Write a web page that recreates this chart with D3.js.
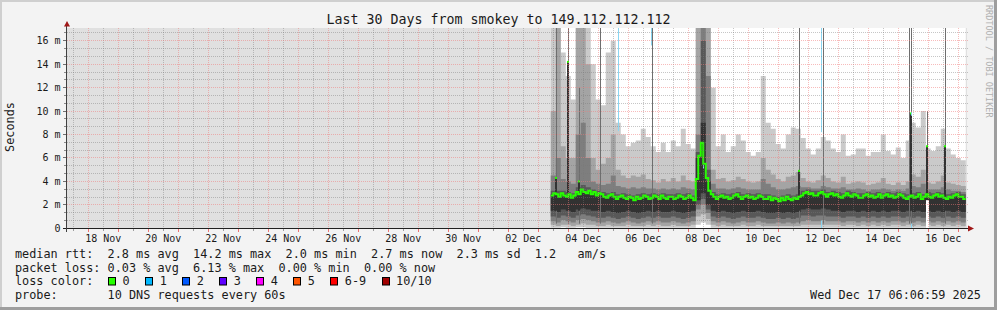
<!DOCTYPE html>
<html>
<head>
<meta charset="utf-8">
<script src="https://cdn.jsdelivr.net/npm/d3@7"></script>
<style>
html, body { margin: 0; padding: 0; background: #f3f3f3; }
svg { display: block; }
text { font-family: "DejaVu Sans Mono", monospace; white-space: pre; }
</style>
</head>
<body>
<svg id="chart" width="997" height="310"></svg>
<script>
// smoke data, one value per 4h bin starting Dec 3 10:00 (ms)
var binStart = Date.UTC(2025, 11, 3, 10);
var binHours = 4;
// median is finer, one value per 2h
var medHours = 2;

var medianMs = [2.8, 3.0, 2.9, 2.7, 3.0, 2.8, 2.7, 2.9, 2.6, 2.8, 3.1, 2.9, 3.3, 3.1, 3.0, 3.2, 2.9, 3.1, 2.8, 3.0,
  2.9, 2.7, 2.6, 2.8, 2.9, 2.7, 2.5, 2.7, 2.8, 2.6, 2.5, 2.7, 2.6, 2.4, 2.7, 2.5, 2.6, 2.8, 2.7, 2.5,
  2.6, 2.8, 2.7, 2.5, 2.8, 2.6, 2.5, 2.7, 2.7, 2.5, 2.6, 2.8, 2.7, 2.5, 2.6, 2.8, 2.6, 2.4,
  4.2, 6.2, 7.3, 5.5, 4.3, 3.2,
  2.9, 2.7, 2.5, 2.7, 2.8, 2.6, 2.7, 2.5, 2.6, 2.8, 2.9, 2.7, 2.5, 2.7, 2.8, 2.6, 2.7, 2.5,
  2.6, 2.8, 2.7, 2.5, 2.5, 2.7, 2.4, 2.6, 2.5, 2.3, 2.6, 2.4, 2.7, 2.5, 2.4, 2.6, 2.5, 2.7,
  2.8, 3.0, 3.1, 2.9, 3.0, 2.8, 2.8, 3.0, 3.1, 2.9, 2.7, 2.9, 3.0, 2.8, 2.9, 2.7, 2.6, 2.8, 3.0, 2.8, 2.7, 2.9, 2.8, 2.6,
  2.6, 2.8, 2.9, 2.7, 2.8, 2.6, 2.7, 2.9, 2.6, 2.8, 2.9, 2.7, 2.8, 2.6, 2.7, 2.9, 2.8, 2.6, 2.5, 2.7, 2.8,
  2.6, 2.7, 2.9, 2.5, 2.7, 2.9, 2.7, 2.6, 2.8, 2.9, 2.7, 2.8, 2.6, 2.5, 2.7, 2.6, 2.8, 2.9, 2.7, 2.7, 2.5];

var p10Ms = [18, 18, 15, 13, 11, 18, 18, 18, 14, 11,
  10.5, 15, 16, 9, 8, 7, 7.3, 7.5, 8.5, 7.8,
  7, 6.5, 7.3, 6.5, 7.5, 7, 8.5, 7.2, 6.8, 18,
  18, 18, 12, 7, 8, 6.5, 7, 8, 7.5, 6.5,
  6.2, 6.5, 13, 9, 8.5, 7.2, 6.8, 8, 8.6, 8.5,
  7.7, 6.8, 6.3, 6.8, 7.8, 7.5, 6.8, 6.5, 8, 6.2,
  6.3, 6.8, 6.8, 6.2, 6.5, 6.5, 8, 6.6, 6.3, 6.9,
  6, 7.5, 9, 8.6, 10, 6.8, 6.6, 7, 8.5, 6.8,
  6.3, 6, 5.8];

var p9Ms = [10, 18, 7, 6, 6, 18, 18, 14, 6, 5,
  5.5, 6, 8, 5, 4.5, 4.3, 4.5, 4.4, 4.6, 4.2,
  4.1, 3.9, 4.2, 4.0, 4.3, 4.0, 4.5, 4.1, 4.0, 18,
  18, 18, 5.0, 4.2, 4.3, 4.0, 4.1, 4.4, 4.2, 4.0,
  3.9, 4.0, 6.0, 5.0, 4.6, 4.2, 4.0, 4.4, 4.5, 4.8,
  4.3, 4.0, 3.9, 4.1, 4.5, 4.3, 4.0, 3.9, 4.4, 3.8,
  3.9, 4.0, 3.9, 3.7, 3.8, 3.9, 4.3, 3.8, 3.7, 3.9,
  3.7, 4.0, 4.6, 4.4, 5.0, 3.9, 3.8, 4.0, 4.5, 3.9,
  3.8, 3.7, 3.6];

var p8Ms = [4.5, 6, 4.2, 4, 3.8, 8, 9, 6, 4, 3.8,
  3.7, 3.8, 4.5, 3.6, 3.5, 3.4, 3.5, 3.4, 3.5, 3.4,
  3.4, 3.3, 3.4, 3.3, 3.4, 3.3, 3.5, 3.4, 3.3, 8,
  18, 13, 3.8, 3.4, 3.4, 3.3, 3.4, 3.5, 3.4, 3.3,
  3.3, 3.3, 4.2, 3.8, 3.5, 3.3, 3.3, 3.4, 3.5, 3.6,
  3.5, 3.5, 3.4, 3.4, 3.6, 3.5, 3.4, 3.4, 3.5, 3.3,
  3.3, 3.4, 3.3, 3.2, 3.3, 3.3, 3.4, 3.3, 3.2, 3.3,
  3.2, 3.4, 3.6, 3.5, 3.8, 3.3, 3.3, 3.3, 3.5, 3.3,
  3.2, 3.2, 3.1];

var p7Ms = [3.2, 3.2, 3.2, 3.1, 3.0, 3.5, 3.7, 3.5, 3.3, 3.2,
  3.1, 3.0, 3.1, 2.9, 3.0, 2.9, 2.8, 2.9, 3.0, 2.9,
  3.0, 2.9, 3.0, 2.9, 2.9, 3.0, 2.9, 3.0, 2.8, 6.5,
  16, 5.0, 3.1, 2.9, 3.0, 2.9, 3.0, 3.1, 2.9, 3.0,
  2.9, 3.0, 2.9, 2.9, 2.8, 2.7, 2.8, 2.9, 2.8, 2.9,
  3.2, 3.3, 3.2, 3.2, 3.3, 3.1, 3.2, 3.1, 3.0, 3.2,
  3.1, 3.0, 3.0, 3.1, 3.0, 3.1, 3.0, 3.1, 3.0, 3.1,
  3.0, 2.9, 3.0, 3.1, 2.9, 3.1, 3.0, 3.1, 3.0, 2.9,
  3.0, 3.1, 2.9];

var p6Ms = [2.9, 2.8, 2.9, 2.8, 2.7, 3.0, 3.2, 3.1, 3.0, 2.9,
  2.8, 2.7, 2.8, 2.6, 2.7, 2.6, 2.5, 2.6, 2.7, 2.6,
  2.7, 2.6, 2.7, 2.6, 2.6, 2.7, 2.6, 2.7, 2.5, 6.0,
  9.0, 4.0, 2.8, 2.6, 2.7, 2.6, 2.7, 2.8, 2.6, 2.7,
  2.6, 2.7, 2.6, 2.6, 2.5, 2.4, 2.5, 2.6, 2.5, 2.6,
  2.9, 3.0, 2.9, 2.9, 3.0, 2.8, 2.9, 2.8, 2.7, 2.9,
  2.8, 2.7, 2.7, 2.8, 2.7, 2.8, 2.7, 2.8, 2.7, 2.8,
  2.7, 2.6, 2.7, 2.8, 2.6, 2.8, 2.7, 2.8, 2.7, 2.6,
  2.7, 2.8, 2.6];

var p5Ms = [1.5, 1.4, 1.6, 1.5, 1.4, 1.6, 1.7, 1.6, 1.5, 1.5,
  1.4, 1.5, 1.4, 1.3, 1.4, 1.5, 1.4, 1.3, 1.4, 1.5,
  1.4, 1.5, 1.4, 1.4, 1.5, 1.4, 1.3, 1.4, 1.5, 2.4,
  3.0, 2.0, 1.5, 1.4, 1.5, 1.4, 1.3, 1.4, 1.5, 1.4,
  1.4, 1.5, 1.4, 1.3, 1.3, 1.4, 1.3, 1.4, 1.3, 1.4,
  1.6, 1.7, 1.6, 1.6, 1.7, 1.6, 1.5, 1.5, 1.4, 1.5,
  1.5, 1.4, 1.5, 1.4, 1.5, 1.4, 1.5, 1.4, 1.5, 1.5,
  1.4, 1.5, 1.4, 1.5, 1.4, 1.5, 1.4, 1.5, 1.4, 1.5,
  1.4, 1.5, 1.4];

var p4Ms = [1.0, 0.9, 1.1, 1.0, 0.9, 1.1, 1.2, 1.1, 1.0, 0.9,
  0.9, 1.0, 0.9, 0.8, 0.9, 1.0, 0.9, 0.8, 0.9, 1.0,
  0.9, 1.0, 0.9, 0.9, 1.0, 0.9, 0.8, 0.9, 1.0, 2.0,
  2.5, 1.6, 1.0, 0.9, 1.0, 0.9, 0.8, 0.9, 1.0, 0.9,
  0.9, 1.0, 0.9, 0.8, 0.8, 0.9, 0.8, 0.9, 0.8, 0.9,
  1.1, 1.1, 1.0, 1.1, 1.1, 1.0, 1.0, 1.0, 0.9, 1.0,
  1.0, 0.9, 1.0, 0.9, 1.0, 0.9, 1.0, 0.9, 1.0, 1.0,
  0.9, 1.0, 0.9, 1.0, 0.9, 1.0, 0.9, 1.0, 0.9, 1.0,
  0.9, 1.0, 0.9];

var p3Ms = [0.6, 0.5, 0.7, 0.6, 0.5, 0.7, 0.8, 0.7, 0.6, 0.5,
  0.5, 0.6, 0.5, 0.4, 0.5, 0.6, 0.5, 0.4, 0.5, 0.6,
  0.5, 0.6, 0.5, 0.5, 0.6, 0.5, 0.4, 0.5, 0.6, 1.6,
  2.0, 1.3, 0.6, 0.5, 0.6, 0.5, 0.4, 0.5, 0.6, 0.5,
  0.5, 0.6, 0.5, 0.4, 0.4, 0.5, 0.4, 0.5, 0.4, 0.5,
  0.6, 0.7, 0.6, 0.6, 0.7, 0.6, 0.6, 0.6, 0.5, 0.6,
  0.6, 0.5, 0.6, 0.5, 0.6, 0.5, 0.6, 0.5, 0.6, 0.6,
  0.5, 0.6, 0.5, 0.6, 0.5, 0.6, 0.5, 0.6, 0.5, 0.6,
  0.5, 0.6, 0.5];

var p2Ms = [0.3, 0.2, 0.3, 0.3, 0.2, 0.3, 0.4, 0.3, 0.3, 0.2,
  0.2, 0.3, 0.2, 0.2, 0.2, 0.3, 0.2, 0.2, 0.2, 0.3,
  0.2, 0.3, 0.2, 0.2, 0.3, 0.2, 0.2, 0.2, 0.3, 1.0,
  1.2, 0.8, 0.3, 0.2, 0.3, 0.2, 0.2, 0.2, 0.3, 0.2,
  0.2, 0.3, 0.2, 0.2, 0.2, 0.2, 0.2, 0.2, 0.2, 0.2,
  0.3, 0.3, 0.3, 0.3, 0.3, 0.3, 0.3, 0.3, 0.2, 0.3,
  0.3, 0.2, 0.3, 0.2, 0.3, 0.2, 0.3, 0.2, 0.3, 0.3,
  0.2, 0.3, 0.2, 0.3, 0.2, 0.3, 0.2, 0.3, 0.2, 0.3,
  0.2, 0.3, 0.2];

var p1Ms = [0.05, 0.05, 0.1, 0.05, 0.05, 0.1, 0.1, 0.05, 0.05, 0.05,
  0.05, 0.05, 0.05, 0.05, 0.05, 0.05, 0.05, 0.05, 0.05, 0.05,
  0.05, 0.05, 0.05, 0.05, 0.05, 0.05, 0.05, 0.05, 0.05, 0.3,
  0.5, 0.3, 0.05, 0.05, 0.05, 0.05, 0.05, 0.05, 0.05, 0.05,
  0.05, 0.05, 0.05, 0.05, 0.05, 0.05, 0.05, 0.05, 0.05, 0.05,
  0.05, 0.05, 0.05, 0.05, 0.05, 0.05, 0.05, 0.05, 0.05, 0.05,
  0.05, 0.05, 0.05, 0.05, 0.05, 0.05, 0.05, 0.05, 0.05, 0.05,
  0.05, 0.05, 0.05, 0.05, 0.05, 0.05, 0.05, 0.05, 0.05, 0.05,
  0.05, 0.05, 0.05];

// narrow one-pixel spikes
var spikeDates = ["2025-12-03T14:36Z", "2025-12-03T23:48Z", "2025-12-04T09:00Z", "2025-12-05T01:24Z",
  "2025-12-06T19:00Z", "2025-12-11T16:36Z", "2025-12-12T11:48Z", "2025-12-15T09:00Z",
  "2025-12-15T10:36Z", "2025-12-15T23:00Z", "2025-12-16T13:48Z"];
var spikeMax = [18, 18, 12, 18, 18, 18, 18, 18, 18, 10, 18];
var spikeMedian = [4.3, 14.2, 4.0, null, null, 4.9, null, null, 9.8, 7.0, 7.0];
var spikeFloor = [0, 0, 0, 0, 0, 0, 0, 0, 0, 2.4, 0];

// packet loss (1/10) marks
var lossDates = ["2025-12-05T16:36Z", "2025-12-06T18:12Z", "2025-12-08T11:48Z", "2025-12-12T10:12Z",
  "2025-12-12T10:12Z", "2025-12-15T10:36Z", "2025-12-15T10:36Z"];
var lossTop = [18, 18, 5.4, 18, 0.7, 9.9, 0.4];
var lossBottom = [8.3, 15.6, 5.1, 8.2, 0, 9.6, 0];

// axis / legend
var yTicks = [0, 2, 4, 6, 8, 10, 12, 14, 16];
var lossLabels = ["0", "1", "2", "3", "4", "5", "6-9", "10/10"];
var lossColors = ["#26ff00", "#00b8ff", "#0059ff", "#5e00ff", "#ff00ff", "#ff5500", "#ff0000", "#a10000"];
var legendRows = [
  "median rtt:  2.8 ms avg  14.2 ms max  2.0 ms min  2.7 ms now  2.3 ms sd  1.2   am/s",
  "packet loss: 0.03 % avg  6.13 % max  0.00 % min  0.00 % now",
  "loss color:",
  "probe:       10 DNS requests every 60s"
];
var stamp = "Wed Dec 17 06:06:59 2025";
var title = "Last 30 Days from smokey to 149.112.112.112";

var W = 997, H = 310;
var svg = d3.select("#chart");

var x = d3.scaleUtc()
  .domain([new Date(Date.UTC(2025, 10, 17, 7)), new Date(Date.UTC(2025, 11, 17, 7))])
  .range([67, 967]);
var y = d3.scaleLinear().domain([0, 17.09]).range([228.3, 28]);
var py = function(v) { return Math.floor(y(v)) + 0.5; };
var px = function(d) { return Math.floor(x(d)) + 0.5; };

// frame
svg.append("rect").attr("width", W).attr("height", H).attr("fill", "#f3f3f3");
svg.append("rect").attr("x", 0).attr("y", 0).attr("width", W).attr("height", 2).attr("fill", "#cfcfcf");
svg.append("rect").attr("x", 0).attr("y", 0).attr("width", 2).attr("height", H).attr("fill", "#cfcfcf");
svg.append("rect").attr("x", 0).attr("y", H - 3).attr("width", W).attr("height", 3).attr("fill", "#9e9e9e");
svg.append("rect").attr("x", W - 3).attr("y", 0).attr("width", 3).attr("height", H).attr("fill", "#9e9e9e");

svg.append("defs").append("clipPath").attr("id", "plot")
  .append("rect").attr("x", 67).attr("y", 28).attr("width", 900).attr("height", 200.5);

var plot = svg.append("g").attr("clip-path", "url(#plot)");

// bins
var bins = d3.range(p10Ms.length).map(function(i) {
  return {
    t: new Date(binStart + i * binHours * 3600e3),
    p1: p1Ms[i], p2: p2Ms[i], p3: p3Ms[i], p4: p4Ms[i], p5: p5Ms[i],
    p6: p6Ms[i], p7: p7Ms[i], p8: p8Ms[i], p9: p9Ms[i], p10: p10Ms[i]
  };
});
var last = Object.assign({}, bins[bins.length - 1]);
last.t = new Date(binStart + bins.length * binHours * 3600e3);
var steps = bins.concat([last]);

var meds = medianMs.map(function(v, i) {
  return { t: new Date(binStart + i * medHours * 3600e3), med: v };
});
meds.push({ t: new Date(binStart + medianMs.length * medHours * 3600e3), med: medianMs[medianMs.length - 1] });

var dataStart = x(bins[0].t), dataEnd = x(last.t);
plot.append("rect").attr("x", 67).attr("y", 28).attr("width", 900).attr("height", 201).attr("fill", "#e0e0e0");
plot.append("rect").attr("x", dataStart).attr("y", 28).attr("width", dataEnd - dataStart)
  .attr("height", 201).attr("fill", "#ffffff");

// smoke bands, outermost first
var bands = [["p1", "p10", "#cacaca"], ["p2", "p9", "#a4a4a4"], ["p3", "p8", "#7e7e7e"],
  ["p4", "p7", "#585858"], ["p5", "p6", "#323232"]];
bands.forEach(function(b) {
  var area = d3.area().curve(d3.curveStepAfter)
    .x(function(d) { return x(d.t); })
    .y0(function(d) { return y(d[b[0]]); })
    .y1(function(d) { return y(d[b[1]]); });
  plot.append("path").datum(steps).attr("d", area).attr("fill", b[2]);
});

// spikes
spikeDates.forEach(function(s, i) {
  var sx = Math.floor(x(new Date(s)));
  plot.append("rect").attr("x", sx).attr("y", y(spikeMax[i]))
    .attr("width", 1).attr("height", y(0.4) - y(spikeMax[i])).attr("fill", "#6e6e6e");
  if (spikeMedian[i] != null) {
    plot.append("rect").attr("x", sx - 1).attr("y", y(spikeMedian[i]))
      .attr("width", 2).attr("height", y(1.5) - y(spikeMedian[i])).attr("fill", "#323232");
  }
  if (spikeFloor[i] > 0) {
    plot.append("rect").attr("x", sx - 1).attr("y", y(spikeFloor[i]))
      .attr("width", 3).attr("height", y(0) - y(spikeFloor[i])).attr("fill", "#ffffff");
  }
});

// median line
var medLine = d3.line().curve(d3.curveStepAfter)
  .x(function(d) { return x(d.t); })
  .y(function(d) { return y(d.med); });
plot.append("path").datum(meds).attr("d", medLine)
  .attr("fill", "none").attr("stroke", lossColors[0]).attr("stroke-width", 2);

spikeDates.forEach(function(s, i) {
  if (spikeMedian[i] == null) return;
  var sx = Math.floor(x(new Date(s)));
  plot.append("rect").attr("x", sx - 1).attr("y", y(spikeMedian[i]) - 1)
    .attr("width", 2).attr("height", 2).attr("fill", lossColors[0]);
});

// loss marks
lossDates.forEach(function(s, i) {
  var lx = px(new Date(s));
  plot.append("line").attr("x1", lx).attr("x2", lx)
    .attr("y1", y(lossTop[i])).attr("y2", y(lossBottom[i]))
    .attr("stroke", "#8ad6f2").attr("stroke-width", 1);
});

// grid
var grid = svg.append("g");
var minorCol = "rgba(120,120,120,0.42)", majorCol = "rgba(240,120,120,0.5)";
var minorY = d3.range(0, 17.05, 2 / 3).filter(function(v) { return Math.abs(v / 2 - Math.round(v / 2)) > 0.01; });
minorY.forEach(function(v) {
  grid.append("line").attr("x1", 67).attr("x2", 969).attr("y1", py(v)).attr("y2", py(v))
    .attr("stroke", minorCol).attr("stroke-dasharray", "1,1");
  grid.append("line").attr("x1", 64).attr("x2", 67).attr("y1", py(v)).attr("y2", py(v))
    .attr("stroke", "#8c8c8c");
});
var halfDays = d3.utcHour.every(12).range(x.domain()[0], x.domain()[1]);
halfDays.forEach(function(d) {
  var major = d.getUTCHours() === 0;
  grid.append("line").attr("x1", px(d)).attr("x2", px(d)).attr("y1", 28).attr("y2", 228)
    .attr("stroke", major ? majorCol : minorCol)
    .attr("stroke-dasharray", "1,1");
  grid.append("line").attr("x1", px(d)).attr("x2", px(d)).attr("y1", 229).attr("y2", major ? 232 : 231)
    .attr("stroke", major ? "#f07070" : "#9c9c9c");
});
yTicks.filter(function(v) { return v > 0; }).forEach(function(v) {
  grid.append("line").attr("x1", 67).attr("x2", 969).attr("y1", py(v)).attr("y2", py(v))
    .attr("stroke", majorCol).attr("stroke-dasharray", "1,1");
  grid.append("line").attr("x1", 63).attr("x2", 67).attr("y1", py(v)).attr("y2", py(v))
    .attr("stroke", "#707070");
});

// axes
svg.append("line").attr("x1", 63).attr("x2", 970).attr("y1", 228.5).attr("y2", 228.5).attr("stroke", "#202020");
svg.append("line").attr("x1", 66.5).attr("x2", 66.5).attr("y1", 232).attr("y2", 25).attr("stroke", "#404040");
svg.append("path").attr("d", "M64,26.5L70,26.5L67,21Z").attr("fill", "#a01818");
svg.append("path").attr("d", "M968,225.5L968,231.5L974,228.5Z").attr("fill", "#a01818");

// tick labels
yTicks.forEach(function(v) {
  svg.append("text").attr("x", 60.5).attr("y", py(v) + 3.5).attr("text-anchor", "end")
    .attr("font-size", "10px").attr("fill", "#1a1a1a")
    .text(v === 0 ? "0" : v + " m");
});
var labelDays = d3.utcDay.range(new Date(Date.UTC(2025, 10, 18)), new Date(Date.UTC(2025, 11, 17)), 2);
var fmt = d3.utcFormat("%d %b");
labelDays.forEach(function(d) {
  svg.append("text").attr("x", x(d3.utcHour.offset(d, 12))).attr("y", 241.7).attr("text-anchor", "middle")
    .attr("font-size", "10px").attr("fill", "#1a1a1a").text(fmt(d));
});

// titles
svg.append("text").attr("x", 498.5).attr("y", 24.3).attr("text-anchor", "middle")
  .attr("font-size", "13.3px").attr("fill", "#1a1a1a").text(title);
svg.append("text").attr("transform", "translate(14,127) rotate(-90)").attr("text-anchor", "middle")
  .attr("font-size", "11.84px").attr("fill", "#1a1a1a").text("Seconds");
svg.append("text").attr("transform", "translate(986,5) rotate(90)")
  .attr("font-size", "8.5px").attr("fill", "#b0b0b0").text("RRDTOOL / TOBI OETIKER");

// legend
var rowY = [258.3, 271.7, 285.3, 298.8];
legendRows.forEach(function(r, i) {
  svg.append("text").attr("x", 15).attr("y", rowY[i]).attr("font-size", "11.84px")
    .attr("fill", "#1a1a1a").text(r);
});
var lx = 108.3;
lossLabels.forEach(function(l, i) {
  svg.append("rect").attr("x", Math.round(lx) + 0.5).attr("y", 277.5).attr("width", 7).attr("height", 7.5)
    .attr("fill", lossColors[i]).attr("stroke", "#000").attr("stroke-width", 1);
  svg.append("text").attr("x", lx + 14.3).attr("y", rowY[2]).attr("font-size", "11.84px")
    .attr("fill", "#1a1a1a").text(l);
  lx += 14.3 + l.length * 7.13 + 15.6;
});
svg.append("text").attr("x", 981).attr("y", rowY[3]).attr("text-anchor", "end")
  .attr("font-size", "11.84px").attr("fill", "#1a1a1a").text(stamp);
</script>
</body>
</html>
